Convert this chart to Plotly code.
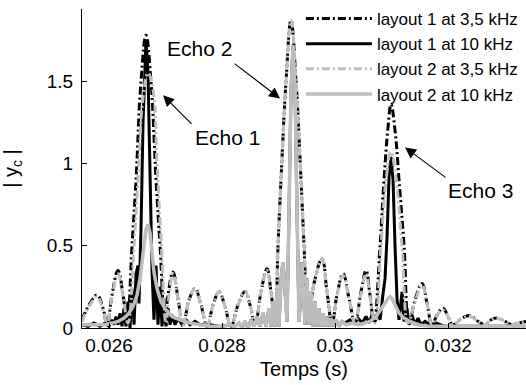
import plotly.graph_objects as go

# ---------------- data (time in s, |y_c|) ----------------
# layout 1 at 3,5 kHz
t_l1_35 = [0.025522, 0.025664, 0.025788, 0.025894, 0.025965, 0.026053, 0.026159, 0.026248, 0.026319,
           0.026407, 0.026478, 0.026566, 0.026655, 0.026743, 0.026832, 0.026903, 0.026991,
           0.027044, 0.027133, 0.027221, 0.027310, 0.027416, 0.027522, 0.027628, 0.027735,
           0.027841, 0.027947, 0.028053, 0.028159, 0.028283, 0.028407, 0.028496, 0.028584,
           0.028690, 0.028796, 0.028867, 0.028938, 0.028991, 0.029044, 0.029133, 0.029221,
           0.029310, 0.029398, 0.029452, 0.029522, 0.029628, 0.029770, 0.029858, 0.029947,
           0.030035, 0.030142, 0.030248, 0.030354, 0.030460, 0.030549, 0.030619, 0.030690,
           0.030797, 0.030867, 0.030938, 0.030991, 0.031062, 0.031133, 0.031221, 0.031310,
           0.031416, 0.031540, 0.031629, 0.031717, 0.031806, 0.031912, 0.032000, 0.032089,
           0.032248, 0.032390, 0.032531, 0.032655, 0.032761, 0.032868, 0.033009, 0.033133,
           0.033239, 0.033381]
y_l1_35 = [0.05, 0.15, 0.20, 0.12, 0.02, 0.20, 0.35, 0.20, 0.03,
           0.50, 0.90, 1.50, 1.78, 1.50, 0.90, 0.50, 0.03,
           0.20, 0.34, 0.18, 0.02, 0.17, 0.24, 0.14, 0.01,
           0.14, 0.22, 0.13, 0.01, 0.14, 0.22, 0.14, 0.02,
           0.22, 0.36, 0.22, 0.03, 0.50, 0.90, 1.50, 1.87,
           1.50, 0.90, 0.50, 0.03, 0.27, 0.42, 0.22, 0.03,
           0.20, 0.33, 0.18, 0.03, 0.22, 0.35, 0.20, 0.03,
           0.50, 0.90, 1.22, 1.36, 1.20, 0.90, 0.50, 0.03,
           0.17, 0.27, 0.15, 0.02, 0.08, 0.12, 0.07, 0.02,
           0.06, 0.075, 0.04, 0.02, 0.05, 0.06, 0.04, 0.02,
           0.03, 0.04]

# layout 2 at 3,5 kHz
t_l2_35 = [0.025522, 0.025664, 0.025788, 0.025894, 0.025965, 0.026053, 0.026159, 0.026248, 0.026336,
           0.026443, 0.026513, 0.026602, 0.026690, 0.026779, 0.026850, 0.026920, 0.027009,
           0.027062, 0.027133, 0.027221, 0.027310, 0.027416, 0.027522, 0.027628, 0.027735,
           0.027841, 0.027947, 0.028053, 0.028159, 0.028283, 0.028407, 0.028496, 0.028584,
           0.028690, 0.028796, 0.028867, 0.028938, 0.028991, 0.029044, 0.029133, 0.029221,
           0.029310, 0.029398, 0.029452, 0.029522, 0.029628, 0.029770, 0.029858, 0.029947,
           0.030035, 0.030142, 0.030248, 0.030354, 0.030460, 0.030549, 0.030619, 0.030708,
           0.030814, 0.030903, 0.030991, 0.031080, 0.031186, 0.031292,
           0.031416, 0.031540, 0.031629, 0.031717, 0.031806, 0.031912, 0.032000, 0.032089,
           0.032248, 0.032390, 0.032531, 0.032655, 0.032761, 0.032868, 0.033009, 0.033133,
           0.033239, 0.033381]
y_l2_35 = [0.04, 0.14, 0.19, 0.11, 0.02, 0.19, 0.33, 0.19, 0.03,
           0.50, 0.90, 1.40, 1.55, 1.45, 1.00, 0.55, 0.03,
           0.20, 0.33, 0.18, 0.02, 0.17, 0.24, 0.14, 0.01,
           0.14, 0.22, 0.13, 0.01, 0.14, 0.22, 0.14, 0.02,
           0.22, 0.35, 0.22, 0.03, 0.50, 0.90, 1.50, 1.87,
           1.50, 0.90, 0.50, 0.03, 0.27, 0.42, 0.22, 0.03,
           0.20, 0.32, 0.18, 0.03, 0.21, 0.33, 0.19, 0.03,
           0.50, 0.90, 1.07, 0.90, 0.50, 0.03,
           0.16, 0.26, 0.15, 0.02, 0.08, 0.11, 0.07, 0.02,
           0.06, 0.07, 0.04, 0.02, 0.05, 0.06, 0.04, 0.02,
           0.03, 0.035]

# layout 1 at 10 kHz
t_l1_10 = [0.025522, 0.025628, 0.025735, 0.025841, 0.025929, 0.026000, 0.026053, 0.026088, 0.026124,
           0.026159, 0.026195, 0.026230, 0.026265, 0.026301, 0.026336, 0.026372, 0.026407,
           0.026443, 0.026478, 0.026513, 0.026531, 0.026566, 0.026602, 0.026637, 0.026655,
           0.026690, 0.026726, 0.026761, 0.026796, 0.026832, 0.026867, 0.026903, 0.026938,
           0.026973, 0.027009, 0.027044, 0.027080, 0.027115, 0.027168, 0.027221, 0.027292,
           0.027363, 0.027434, 0.027522, 0.027611, 0.027788, 0.027965, 0.028142,
           0.028230, 0.028301, 0.028354, 0.028407, 0.028460, 0.028513, 0.028566, 0.028620,
           0.028673, 0.028726, 0.028779, 0.028832, 0.028867, 0.028903, 0.028938, 0.028974,
           0.029009, 0.029044, 0.029080, 0.029115, 0.029150, 0.029186, 0.029221, 0.029257,
           0.029292, 0.029328, 0.029363, 0.029398, 0.029416, 0.029452, 0.029469, 0.029505,
           0.029540, 0.029575, 0.029611, 0.029646, 0.029681, 0.029717, 0.029752, 0.029788,
           0.029823, 0.029858, 0.029894, 0.029929, 0.029965, 0.030018, 0.030071, 0.030124,
           0.030177, 0.030265, 0.030336, 0.030407, 0.030478, 0.030549, 0.030602, 0.030655,
           0.030708, 0.030761, 0.030797, 0.030850, 0.030885, 0.030920, 0.030956, 0.030991,
           0.031027, 0.031062, 0.031097, 0.031133, 0.031186, 0.031221, 0.031274, 0.031310,
           0.031363, 0.031416, 0.031469, 0.031522, 0.031593, 0.031682, 0.031788, 0.031947,
           0.032212, 0.032566, 0.032921, 0.033381]
y_l1_10 = [0.02, 0.01, 0.03, 0.01, 0.03, 0.01, 0.05, 0.02, 0.07,
           0.02, 0.09, 0.01, 0.12, 0.01, 0.16, 0.00, 0.24,
           0.02, 0.33, 0.38, 0.15, 0.60, 1.25, 1.68, 1.75,
           1.55, 0.95, 0.35, 0.05, 0.38, 0.02, 0.25, 0.01,
           0.18, 0.01, 0.12, 0.02, 0.08, 0.02, 0.06, 0.02,
           0.05, 0.02, 0.04, 0.02, 0.02, 0.01, 0.02,
           0.01, 0.03, 0.00, 0.04, 0.00, 0.05, 0.01, 0.07,
           0.01, 0.09, 0.01, 0.12, 0.01, 0.16, 0.01, 0.22,
           0.01, 0.30, 0.40, 0.20, 0.04, 0.70, 1.45, 1.72,
           1.45, 0.70, 0.04, 0.22, 0.40, 0.15, 0.02, 0.30,
           0.02, 0.22, 0.01, 0.16, 0.01, 0.12, 0.01, 0.09,
           0.01, 0.07, 0.01, 0.06, 0.01, 0.05, 0.01, 0.04,
           0.03, 0.05, 0.03, 0.06, 0.03, 0.07, 0.03, 0.08,
           0.04, 0.10, 0.05, 0.21, 0.30, 0.55, 0.92, 1.04,
           0.90, 0.50, 0.18, 0.05, 0.22, 0.04, 0.12, 0.02,
           0.08, 0.02, 0.06, 0.02, 0.04, 0.02, 0.03, 0.01,
           0.01, 0.01, 0.01, 0.01]

# layout 2 at 10 kHz
t_l2_10 = [0.025522, 0.025752, 0.025929, 0.026053, 0.026159, 0.026265, 0.026354, 0.026425, 0.026496,
           0.026549, 0.026584, 0.026619, 0.026655, 0.026690, 0.026726, 0.026761, 0.026796,
           0.026850, 0.026920, 0.027009, 0.027115, 0.027257, 0.027434, 0.027611, 0.027823,
           0.028000, 0.028142,
           0.028230, 0.028301, 0.028354, 0.028407, 0.028460, 0.028513, 0.028566, 0.028620,
           0.028673, 0.028726, 0.028779, 0.028832, 0.028867, 0.028903, 0.028938, 0.028974,
           0.029009, 0.029044, 0.029080, 0.029115, 0.029150, 0.029186, 0.029221, 0.029257,
           0.029292, 0.029328, 0.029363, 0.029398, 0.029416, 0.029452, 0.029469, 0.029505,
           0.029540, 0.029575, 0.029611, 0.029646, 0.029681, 0.029717, 0.029752, 0.029788,
           0.029823, 0.029858, 0.029894, 0.029929, 0.029965, 0.030018, 0.030071, 0.030124,
           0.030195, 0.030301, 0.030407, 0.030531, 0.030619, 0.030726, 0.030814, 0.030885,
           0.030938, 0.030974, 0.031009, 0.031062, 0.031133, 0.031221, 0.031327, 0.031469,
           0.031682, 0.032036, 0.032566, 0.033381]
y_l2_10 = [0.02, 0.02, 0.02, 0.03, 0.04, 0.06, 0.09, 0.13, 0.20,
           0.30, 0.40, 0.52, 0.60, 0.63, 0.58, 0.46, 0.34,
           0.24, 0.16, 0.11, 0.07, 0.05, 0.03, 0.02, 0.01,
           0.01, 0.02,
           0.01, 0.03, 0.00, 0.04, 0.00, 0.05, 0.01, 0.07,
           0.01, 0.09, 0.01, 0.12, 0.01, 0.16, 0.01, 0.22,
           0.01, 0.30, 0.40, 0.20, 0.04, 0.70, 1.45, 1.72,
           1.45, 0.70, 0.04, 0.22, 0.40, 0.15, 0.02, 0.30,
           0.02, 0.22, 0.01, 0.16, 0.01, 0.12, 0.01, 0.09,
           0.01, 0.07, 0.01, 0.06, 0.01, 0.05, 0.01, 0.04,
           0.02, 0.03, 0.02, 0.03, 0.04, 0.07, 0.11, 0.15,
           0.18, 0.19, 0.18, 0.14, 0.09, 0.06, 0.04, 0.02,
           0.01, 0.01, 0.01, 0.01]

x_ticks = [0.026, 0.028, 0.03, 0.032]
x_tick_labels = ["0.026", "0.028", "0.03", "0.032"]
y_ticks = [0, 0.5, 1, 1.5]
y_tick_labels = ["0", "0.5", "1", "1.5"]

names = ["layout 1 at 3,5 kHz", "layout 1 at 10 kHz", "layout 2 at 3,5 kHz", "layout 2 at 10 kHz"]

FONT = "Liberation Sans, Arial, sans-serif"
BLACK = "#000000"
GREY = "#bdbdbd"
DASHDOT = "8px,3px,2px,3px"

fig = go.Figure()
fig.add_trace(go.Scatter(x=t_l1_35, y=y_l1_35, mode="lines", name=names[0], legendgroup="a",
                         line=dict(color=BLACK, width=3, dash=DASHDOT, shape="spline", smoothing=1.2)))
fig.add_trace(go.Scatter(x=t_l1_10, y=y_l1_10, mode="lines", name=names[1], legendgroup="b",
                         line=dict(color=BLACK, width=3)))
fig.add_trace(go.Scatter(x=t_l2_35, y=y_l2_35, mode="lines", name=names[2], legendgroup="c",
                         line=dict(color=GREY, width=3, dash=DASHDOT, shape="spline", smoothing=1.2)))
fig.add_trace(go.Scatter(x=t_l2_10, y=y_l2_10, mode="lines", name=names[3], legendgroup="d",
                         line=dict(color=GREY, width=3.5)))

# echo labels
labels = [("Echo 1", 0.028089, 1.159), ("Echo 2", 0.02761, 1.70), ("Echo 3", 0.032567, 0.835)]
for txt, lx, ly in labels:
    fig.add_annotation(x=lx, y=ly, xref="x", yref="y", text=txt, showarrow=False,
                       font=dict(family=FONT, size=21, color="black"))
# arrows (head in data coords, tail offset in px)
arrows = [(0.026956, 1.415, 30, 30), (0.029027, 1.396, -47, -36), (0.031239, 1.098, 42, 31)]
for hx, hy, ax, ay in arrows:
    fig.add_annotation(x=hx, y=hy, xref="x", yref="y", text="", showarrow=True,
                       ax=ax, ay=ay, arrowhead=2, arrowsize=2.0, arrowwidth=1.1, arrowcolor="black")

fig.update_layout(
    width=526, height=385,
    margin=dict(l=82, r=0, t=9, b=57, autoexpand=False),
    paper_bgcolor="white", plot_bgcolor="white",
    font=dict(family=FONT, color="black"),
    showlegend=True,
    legend=dict(x=0.493, y=1.025, xanchor="left", yanchor="top", bgcolor="rgba(0,0,0,0)",
                font=dict(family=FONT, size=17, color="black"), itemwidth=66, tracegroupgap=0),
    xaxis=dict(range=[0.025522, 0.03338], showline=True, linecolor="black", linewidth=1,
               ticks="inside", ticklen=5, tickcolor="black", tickvals=x_ticks, ticktext=x_tick_labels,
               showgrid=False, zeroline=False, tickfont=dict(size=19), automargin=False,
               title=dict(text="Temps (s)", font=dict(size=20), standoff=7)),
    yaxis=dict(range=[0, 1.94], showline=True, linecolor="black", linewidth=1,
               ticks="inside", ticklen=5, tickcolor="black", tickvals=y_ticks, ticktext=y_tick_labels,
               showgrid=False, zeroline=False, tickfont=dict(size=19), ticklabelstandoff=4, automargin=False,
               title=dict(text="| y<sub>c</sub> |", font=dict(size=20), standoff=23)),
)

fig.write_html("out.html", config={"displayModeBar": False},
               post_script="document.body.style.margin='0';document.body.style.padding='0';")
